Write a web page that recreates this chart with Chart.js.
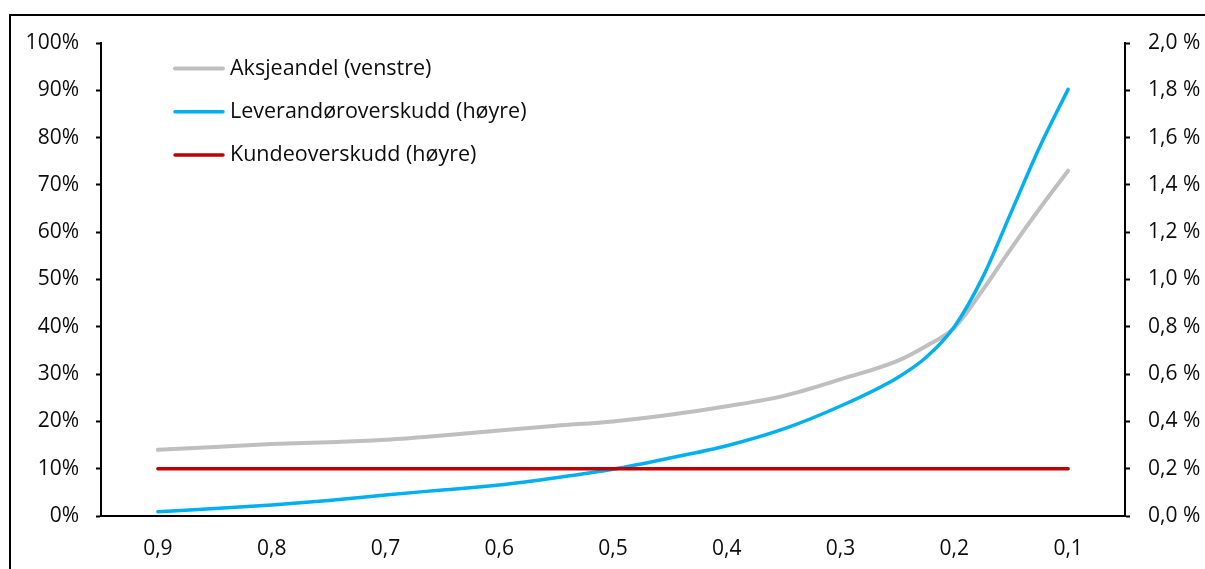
<!DOCTYPE html>
<html lang="no">
<head>
<meta charset="utf-8">
<title>Aksjeandel, leverandøroverskudd og kundeoverskudd</title>
<script src="https://cdn.jsdelivr.net/npm/chart.js@4.4.1/dist/chart.umd.min.js"></script>
<style>
  html, body { margin: 0; padding: 0; background: #fff; }
  #wrap { position: relative; width: 1205px; height: 569px; overflow: hidden; }
  #frame { position: absolute; left: 9px; top: 14px; width: 1400px; height: 800px;
           border-top: 2px solid #000; border-left: 2px solid #000; box-sizing: border-box; }
  #chart { position: absolute; left: 0; top: 0; }
</style>
</head>
<body>
<div id="wrap">
  <div id="frame"></div>
  <canvas id="chart" width="1205" height="569"></canvas>
</div>
<script>
// Horizontal values (read right-to-left on the axis)
const xValues = [0.9, 0.85, 0.8, 0.75, 0.7, 0.65, 0.6, 0.55, 0.5, 0.45, 0.4, 0.35, 0.3, 0.25, 0.225, 0.2, 0.175, 0.15, 0.125, 0.1];
// Aksjeandel, percent (left axis)
const aksjeandel = [14.0, 14.6, 15.2, 15.6, 16.1, 17.0, 18.1, 19.1, 20.0, 21.4, 23.2, 25.4, 28.9, 32.8, 35.9, 39.8, 47.8, 56.6, 65.0, 73.0];
// Leverandøroverskudd, percent (right axis)
const leverandor = [0.018, 0.032, 0.047, 0.066, 0.089, 0.110, 0.131, 0.162, 0.198, 0.245, 0.297, 0.368, 0.465, 0.585, 0.670, 0.800, 1.010, 1.285, 1.560, 1.804];
// Kundeoverskudd, percent (right axis)
const kunde = [0.2, 0.2, 0.2, 0.2, 0.2, 0.2, 0.2, 0.2, 0.2, 0.2, 0.2, 0.2, 0.2, 0.2, 0.2, 0.2, 0.2, 0.2, 0.2, 0.2];
// Tick values
const xTicks = [0.9, 0.8, 0.7, 0.6, 0.5, 0.4, 0.3, 0.2, 0.1];
const seriesNames = ['Aksjeandel (venstre)', 'Leverandøroverskudd (høyre)', 'Kundeoverskudd (høyre)'];

const FONT = '"Open Sans", "Noto Sans", sans-serif';
const toPoints = arr => xValues.map((x, i) => ({ x: x, y: arr[i] }));
const comma = (v, d) => v.toFixed(d).replace('.', ',');

// Legend drawn inside the plot area, top-left
const insideLegend = {
  id: 'insideLegend',
  afterDraw(chart) {
    const { ctx, chartArea } = chart;
    const x0 = chartArea.left + 72;
    const y0 = chartArea.top + 25.5;
    const rowGap = 43.3;
    ctx.save();
    ctx.font = '21.5px ' + FONT;
    ctx.textBaseline = 'middle';
    ctx.textAlign = 'left';
    chart.data.datasets.forEach((ds, i) => {
      const y = y0 + i * rowGap;
      ctx.strokeStyle = ds.borderColor;
      ctx.lineWidth = ds.borderWidth;
      ctx.lineCap = 'round';
      ctx.beginPath();
      ctx.moveTo(x0 + 2, y);
      ctx.lineTo(x0 + 50, y);
      ctx.stroke();
      ctx.fillStyle = '#0d0d0d';
      ctx.fillText(ds.label, x0 + 57, y);
    });
    ctx.restore();
  }
};

new Chart(document.getElementById('chart'), {
  type: 'line',
  data: {
    datasets: [
      { label: seriesNames[0], data: toPoints(aksjeandel), yAxisID: 'y', borderColor: '#BFBFBF', borderWidth: 4, order: 3 },
      { label: seriesNames[1], data: toPoints(leverandor), yAxisID: 'y1', borderColor: '#00B0F0', borderWidth: 3.5, order: 2 },
      { label: seriesNames[2], data: toPoints(kunde), yAxisID: 'y1', borderColor: '#C00000', borderWidth: 3.5, order: 1 }
    ]
  },
  options: {
    responsive: false,
    animation: false,
    events: [],
    layout: { padding: { top: 43, left: 0, right: 0, bottom: 0 } },
    elements: {
      point: { radius: 0 },
      line: { cubicInterpolationMode: 'monotone', borderCapStyle: 'round', borderJoinStyle: 'round', fill: false }
    },
    plugins: { legend: { display: false }, tooltip: { enabled: false } },
    scales: {
      x: {
        type: 'linear',
        reverse: true,
        min: 0.05,
        max: 0.95,
        afterBuildTicks: s => { s.ticks = xTicks.map(v => ({ value: v })); },
        afterFit: s => { s.height = 53; },
        grid: { display: false, drawTicks: false },
        border: { display: true, color: '#000', width: 2 },
        ticks: { padding: 20, color: '#0d0d0d', font: { family: FONT, size: 21 }, maxRotation: 0, autoSkip: false,
                 callback: v => comma(v, 1) }
      },
      y: {
        position: 'left',
        min: 0, max: 100,
        afterFit: s => { s.width = 101; },
        ticks: { stepSize: 10, padding: 17, color: '#0d0d0d', font: { family: FONT, size: 21 }, callback: v => v + '%' },
        grid: { drawOnChartArea: false, drawTicks: true, tickLength: 5, tickColor: '#000', tickWidth: 2 },
        border: { display: true, color: '#000', width: 2 }
      },
      y1: {
        position: 'right',
        min: 0, max: 2,
        afterFit: s => { s.width = 80; },
        ticks: { stepSize: 0.2, padding: 18, color: '#0d0d0d', font: { family: FONT, size: 21 }, callback: v => comma(v, 1) + ' %' },
        grid: { drawOnChartArea: false, drawTicks: true, tickLength: 5, tickColor: '#000', tickWidth: 2 },
        border: { display: true, color: '#000', width: 2 }
      }
    }
  },
  plugins: [insideLegend]
});
</script>
</body>
</html>
